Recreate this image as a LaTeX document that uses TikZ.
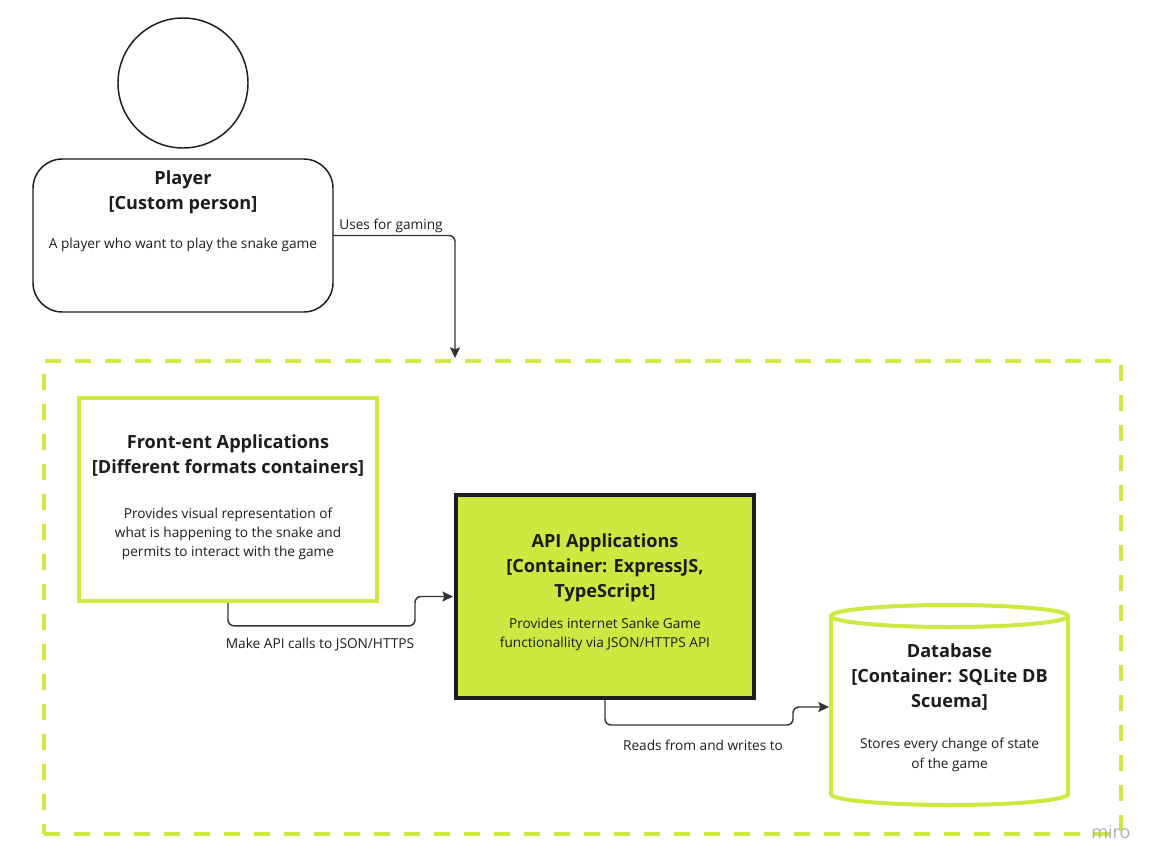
\documentclass[tikz,border=0pt]{standalone}
\usepackage{fontspec}
\setmainfont{Open Sans}
\usetikzlibrary{arrows.meta,calc}
\definecolor{lime}{RGB}{206,231,65}
\definecolor{ink}{RGB}{28,28,28}
\definecolor{connc}{RGB}{50,50,55}
\definecolor{miro}{RGB}{175,175,188}
\begin{document}
\begin{tikzpicture}[x=0.75pt,y=-0.75pt,
  titletext/.style={font=\fontsize{13.6}{18.75}\selectfont\bfseries, text=ink, align=center, inner sep=0, yshift=-1.5pt},
  desctext/.style={font=\fontsize{10.25}{14.5}\selectfont, text=ink, align=center, inner sep=0, yshift=-1.5pt},
  lbltext/.style={font=\fontsize{10.25}{12}\selectfont, text=ink, inner sep=0, yshift=-1.5pt},
  conn/.style={draw=connc, line width=1.1pt, rounded corners=4.5pt,
    -{Stealth[length=8pt,width=7.5pt,inset=1.5pt]}},
  limebox/.style={draw=lime, line width=2.7pt, fill=white, inner sep=0,
    minimum width=223.5pt, minimum height=152.25pt},
]
\useasboundingbox (0,0) rectangle (1156,864);

% boundary
\node[draw=lime, line width=3pt, dash pattern=on 12pt off 10.5pt, inner sep=0,
  minimum width=807.75pt, minimum height=354.75pt] (boundary) at (582.5,597.5) {};

% player
\node[circle, draw=ink, line width=1.1pt, minimum size=97.5pt, inner sep=0] (head) at (183,83) {};
\node[draw=ink, line width=1.1pt, rounded corners=22pt, inner sep=0,
  minimum width=225pt, minimum height=114.75pt] (player) at (183,235.5) {};
\node[titletext] (ptitle) at (183,190) {Player\\{}[Custom person]};
\node[desctext] (pdesc) at (183,243) {A player who want to play the snake game};

% front-end
\node[limebox] (fe) at (228,499.5) {};
\node[titletext] (fetitle) at (228,454) {Front-ent Applications\\{}[Different formats containers]};
\node[desctext] (fedesc) at (228,532) {Provides visual representation of\\what is happening to the snake and\\permits to interact with the game};

% API
\node[draw=ink, fill=lime, line width=3pt, inner sep=0,
  minimum width=223.5pt, minimum height=152.25pt] (api) at (605,596.5) {};
\node[titletext] (apititle) at (605,565.5) {API Applications\\{}[Container: ExpressJS,\\TypeScript]};
\node[desctext] (apidesc) at (605,632.5) {Provides internet Sanke Game\\functionallity via JSON/HTTPS API};

% database
\node[inner sep=0, minimum width=178pt, minimum height=150pt] (db) at (949.5,705) {};
\draw[draw=lime, line width=3pt, fill=white]
  (831,616) -- (831,794) arc[start angle=180, end angle=360, x radius=88.9pt, y radius=8.25pt]
  -- (1068,616);
\draw[draw=lime, line width=3pt] (949.5,616) ellipse[x radius=88.9pt, y radius=8.25pt];
\node[titletext] (dbtitle) at (949.5,675.5) {Database\\{}[Container: SQLite DB\\Scuema]};
\node[desctext] (dbdesc) at (949.5,753) {Stores every change of state\\of the game};

% connectors
\coordinate (bin) at (455,358);
\draw[conn] (player.east) -| (bin);
\node[lbltext] (l1) at (391,224) {Uses for gaming};

\draw[conn] (fe.south) -- ++(0,23) -| ($(api.west)+(-39,0)$) -- ($(api.west)+(-1,0)$);
\node[lbltext] (l2) at (320,643) {Make API calls to JSON/HTTPS};

\coordinate (dbin) at (829,707);
\draw[conn] (api.south) -- ++(0,25) -| ($(dbin)+(-36,0)$) -- (dbin);
\node[lbltext] (l3) at (703,743) {Reads from and writes to};

% watermark
\node[font=\fontsize{13.5}{14}\selectfont, text=miro, inner sep=0] (miro) at (1111,832) {miro};
\end{tikzpicture}
\end{document}
